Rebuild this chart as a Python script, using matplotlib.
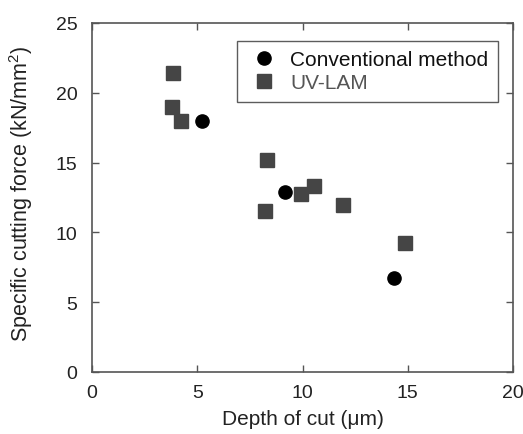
import matplotlib
matplotlib.use("Agg")
import matplotlib.pyplot as plt

conv_x = [5.24, 9.18, 14.36]
conv_y = [17.96, 12.87, 6.73]
uv_x = [3.83, 3.79, 4.23, 8.33, 8.23, 9.91, 10.55, 11.94, 14.87]
uv_y = [21.4, 19.0, 17.96, 15.16, 11.55, 12.73, 13.35, 11.98, 9.26]
xticks = [0, 5, 10, 15, 20]
yticks = [0, 5, 10, 15, 20, 25]

plt.rcParams['font.family'] = ['Liberation Sans', 'DejaVu Sans']
plt.rcParams['mathtext.fontset'] = 'custom'
plt.rcParams['mathtext.rm'] = 'Liberation Sans'
plt.rcParams['mathtext.it'] = 'Liberation Sans'
plt.rcParams['mathtext.bf'] = 'Liberation Sans'
fig = plt.figure(figsize=(5.23, 4.35), dpi=100)
ax = fig.add_axes([92/523, 62/435, 421/523, 349/435])

ax.plot(conv_x, conv_y, 'o', color='black', markersize=9.5, linestyle='none', label='Conventional method')
ax.plot(uv_x, uv_y, 's', color='#454545', markersize=10, linestyle='none', label='UV-LAM')

ax.set_xlim(0, 20)
ax.set_ylim(0, 25)
ax.set_xticks(xticks)
ax.set_yticks(yticks)
ax.tick_params(direction='in', top=True, right=True, length=5, width=1, color='#555555',
               labelsize=14, labelcolor='#222222')
ax.tick_params(axis='x', pad=8.5)
ax.tick_params(axis='y', pad=10.5)
for s in ax.spines.values():
    s.set_color('#555555')
    s.set_linewidth(1.2)

ax.set_xlabel('Depth of cut (μm)', fontsize=15, color='#222222', labelpad=6)
ax.set_ylabel('Specific cutting force (kN/mm$^{2}$)', fontsize=15.5, color='#222222', labelpad=12)
ax.yaxis.set_label_coords(-0.135, 0.515)

leg = ax.legend(loc='upper right', fontsize=15, frameon=True, fancybox=False,
                edgecolor='#333333', handletextpad=0.41, borderpad=0.45,
                labelspacing=0.2, handlelength=1.7, borderaxespad=0,
                bbox_to_anchor=(0.9637, 0.949))
leg.get_frame().set_linewidth(1.0)
leg.get_texts()[0].set_color('#111111')
leg.get_texts()[1].set_color('#555555')

fig.savefig('out.png', dpi=100)
